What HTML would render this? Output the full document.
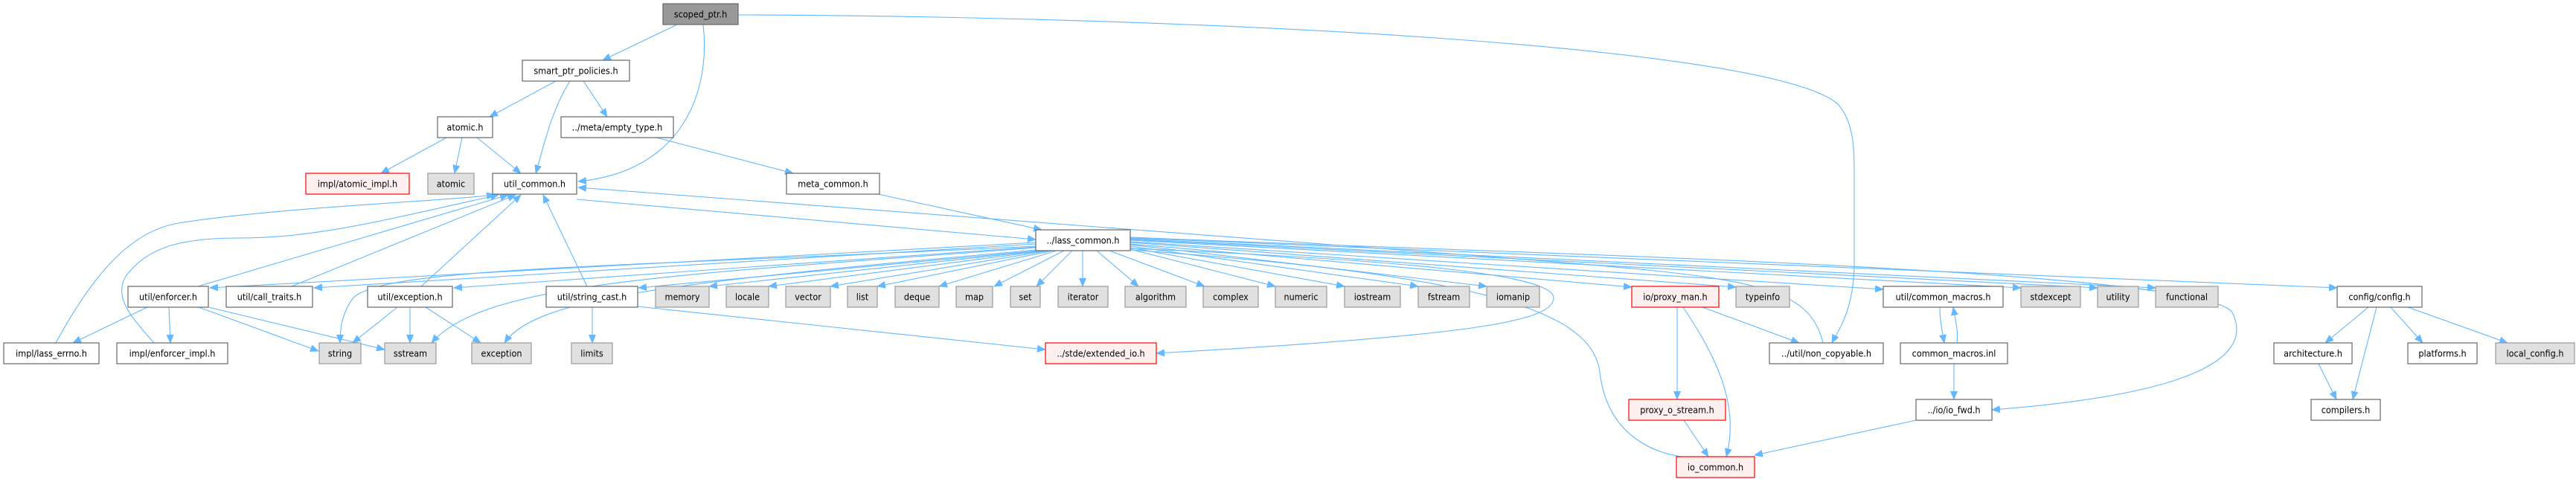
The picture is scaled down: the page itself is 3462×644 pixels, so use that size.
<!DOCTYPE html>
<html><head><meta charset="utf-8"><style>
html,body{margin:0;padding:0;background:#fff;}
svg{display:block;}
text{font-family:"DejaVu Sans Condensed","DejaVu Sans","Liberation Sans",sans-serif;font-size:12.5px;fill:#000;text-anchor:middle;dominant-baseline:central;}
.n rect{fill:#fff;stroke:#666;stroke-width:1.2;}
.g rect{fill:#e0e0e0;stroke:#999;stroke-width:1.2;}
.r rect{fill:#fff0f0;stroke:#f00;stroke-width:1.2;}
.root rect{fill:#999;stroke:#666;stroke-width:1.2;}
path{fill:none;stroke:#63b8ff;stroke-width:1.1;}
</style></head><body>
<svg width="3462" height="644" viewBox="0 0 3462 644" xmlns="http://www.w3.org/2000/svg">
<defs><marker id="a" markerUnits="userSpaceOnUse" markerWidth="12" markerHeight="10" refX="11" refY="5" orient="auto"><polygon points="0,0 12,5 0,10" fill="#63b8ff"/></marker></defs>
<g marker-end="url(#a)">
<path d="M910,33L810,81"/>
<path d="M945,33C955,120 920,230 777,244"/>
<path d="M992,20C1600,22 2380,60 2470,140C2492,165 2492,200 2492,240L2492,360C2490,420 2470,445 2462,461"/>
<path d="M747,109L658,157"/>
<path d="M766,109C740,150 730,200 720,233"/>
<path d="M784,109L816,157"/>
<path d="M600,185L512,233"/>
<path d="M621,185L611,233"/>
<path d="M641,185L700,233"/>
<path d="M882,185L1066,233"/>
<path d="M1180,261L1400,309"/>
<path d="M775,268L1392,322"/>
<path d="M2450,461C2430,380 2350,372 2000,345L777,252"/>
<path d="M75,461C130,360 180,310 240,300C360,280 600,270 665,262"/>
<path d="M207,461C180,430 150,400 170,370C200,330 250,320 320,320C420,320 500,300 670,262"/>
<path d="M266,385L683,262"/>
<path d="M392,385L693,262"/>
<path d="M566,385L700,262"/>
<path d="M789,385L730,262"/>
<path d="M198,413L98,461"/>
<path d="M227,413L229,461"/>
<path d="M267,413L428,472"/>
<path d="M280,413L517,470"/>
<path d="M534,413L474,461"/>
<path d="M551,413L551,461"/>
<path d="M572,413L646,461"/>
<path d="M796,413L796,461"/>
<path d="M857,412L1405,470"/>
<path d="M1392,331C800,360 520,360 475,400C460,420 457,440 457,461"/>
<path d="M1392,333C900,370 650,380 580,461"/>
<path d="M1392,336C900,380 720,400 678,461"/>
<path d="M1392,326L282,387"/>
<path d="M1392,328L422,387"/>
<path d="M1392,332L610,387"/>
<path d="M1395,337L858,387"/>
<path d="M1400,337L953,385"/>
<path d="M1405,337L1033,385"/>
<path d="M1410,337L1116,385"/>
<path d="M1415,337L1179,385"/>
<path d="M1420,337L1262,385"/>
<path d="M1430,337L1336,385"/>
<path d="M1441,337L1393,385"/>
<path d="M1455,337L1455,385"/>
<path d="M1474,337L1530,385"/>
<path d="M1491,337L1619,385"/>
<path d="M1519,335L1714,385"/>
<path d="M1519,333L1807,385"/>
<path d="M1519,331L1906,385"/>
<path d="M1519,329L1998,385"/>
<path d="M1519,328L2193,386"/>
<path d="M1519,326L2333,386"/>
<path d="M1519,325L2531,389"/>
<path d="M1519,323L2716,387"/>
<path d="M1519,322L2819,387"/>
<path d="M1519,321L2897,387"/>
<path d="M1519,320L3141,387"/>
<path d="M1519,319C2000,340 2960,360 3000,420C3030,480 2950,530 2677,551"/>
<path d="M1519,334C1900,350 2090,370 2088,401C2086,430 2000,450 1554,475"/>
<path d="M2254,413L2254,537"/>
<path d="M2262,413C2300,470 2340,540 2320,614"/>
<path d="M2288,413L2418,461"/>
<path d="M2263,565L2296,614"/>
<path d="M2575,565L2358,612"/>
<path d="M2607,413C2607,430 2610,445 2613,461"/>
<path d="M2630,461C2632,445 2628,430 2625,413"/>
<path d="M2626,489L2626,537"/>
<path d="M3183,413L3125,461"/>
<path d="M3194,413L3162,537"/>
<path d="M3213,413L3256,461"/>
<path d="M3236,413L3370,461"/>
<path d="M3116,489L3140,537"/>
</g>
<path d="M1519,336C2000,370 2140,420 2150,500C2160,590 2230,610 2260,614"/>

<g class="root"><rect x="891" y="5" width="101" height="28"/><text x="941.5" y="19">scoped_ptr.h</text></g>
<g class="n"><rect x="702" y="81" width="144" height="28"/><text x="774" y="95">smart_ptr_policies.h</text></g>
<g class="n"><rect x="588" y="157" width="74" height="28"/><text x="625" y="171">atomic.h</text></g>
<g class="n"><rect x="754" y="157" width="151" height="28"/><text x="829.5" y="171">../meta/empty_type.h</text></g>
<g class="r"><rect x="411" y="233" width="139" height="28"/><text x="480.5" y="247">impl/atomic_impl.h</text></g>
<g class="g"><rect x="575" y="233" width="62" height="28"/><text x="606" y="247">atomic</text></g>
<g class="n"><rect x="662" y="233" width="113" height="28"/><text x="718.5" y="247">util_common.h</text></g>
<g class="n"><rect x="1057" y="233" width="125" height="28"/><text x="1119.5" y="247">meta_common.h</text></g>
<g class="n"><rect x="1392" y="309" width="127" height="28"/><text x="1455.5" y="323">../lass_common.h</text></g>

<g class="n"><rect x="172" y="385" width="108" height="28"/><text x="226" y="399">util/enforcer.h</text></g>
<g class="n"><rect x="304" y="385" width="116" height="28"/><text x="362" y="399">util/call_traits.h</text></g>
<g class="n"><rect x="494" y="385" width="114" height="28"/><text x="551" y="399">util/exception.h</text></g>
<g class="n"><rect x="734" y="385" width="123" height="28"/><text x="795.5" y="399">util/string_cast.h</text></g>
<g class="g"><rect x="881" y="385" width="72" height="28"/><text x="917" y="399">memory</text></g>
<g class="g"><rect x="976" y="385" width="57" height="28"/><text x="1004.5" y="399">locale</text></g>
<g class="g"><rect x="1056" y="385" width="60" height="28"/><text x="1086" y="399">vector</text></g>
<g class="g"><rect x="1139" y="385" width="40" height="28"/><text x="1159" y="399">list</text></g>
<g class="g"><rect x="1203" y="385" width="59" height="28"/><text x="1232.5" y="399">deque</text></g>
<g class="g"><rect x="1285" y="385" width="49" height="28"/><text x="1309.5" y="399">map</text></g>
<g class="g"><rect x="1358" y="385" width="40" height="28"/><text x="1378" y="399">set</text></g>
<g class="g"><rect x="1422" y="385" width="67" height="28"/><text x="1455.5" y="399">iterator</text></g>
<g class="g"><rect x="1512" y="385" width="82" height="28"/><text x="1553" y="399">algorithm</text></g>
<g class="g"><rect x="1617" y="385" width="74" height="28"/><text x="1654" y="399">complex</text></g>
<g class="g"><rect x="1714" y="385" width="69" height="28"/><text x="1748.5" y="399">numeric</text></g>
<g class="g"><rect x="1807" y="385" width="75" height="28"/><text x="1844.5" y="399">iostream</text></g>
<g class="g"><rect x="1906" y="385" width="69" height="28"/><text x="1940.5" y="399">fstream</text></g>
<g class="g"><rect x="1998" y="385" width="71" height="28"/><text x="2033.5" y="399">iomanip</text></g>
<g class="r"><rect x="2193" y="385" width="117" height="28"/><text x="2251.5" y="399">io/proxy_man.h</text></g>
<g class="g"><rect x="2333" y="385" width="72" height="28"/><text x="2369" y="399">typeinfo</text></g>
<g class="n"><rect x="2531" y="385" width="161" height="28"/><text x="2611.5" y="399">util/common_macros.h</text></g>
<g class="g"><rect x="2716" y="385" width="80" height="28"/><text x="2756" y="399">stdexcept</text></g>
<g class="g"><rect x="2819" y="385" width="55" height="28"/><text x="2846.5" y="399">utility</text></g>
<g class="g"><rect x="2897" y="385" width="84" height="28"/><text x="2939" y="399">functional</text></g>
<g class="n"><rect x="3141" y="385" width="114" height="28"/><text x="3198" y="399">config/config.h</text></g>

<g class="n"><rect x="5" y="461" width="128" height="28"/><text x="69" y="475">impl/lass_errno.h</text></g>
<g class="n"><rect x="157" y="461" width="149" height="28"/><text x="231.5" y="475">impl/enforcer_impl.h</text></g>
<g class="g"><rect x="429" y="461" width="56" height="28"/><text x="457" y="475">string</text></g>
<g class="g"><rect x="517" y="461" width="69" height="28"/><text x="551.5" y="475">sstream</text></g>
<g class="g"><rect x="634" y="461" width="80" height="28"/><text x="674" y="475">exception</text></g>
<g class="g"><rect x="768" y="461" width="55" height="28"/><text x="795.5" y="475">limits</text></g>
<g class="r"><rect x="1405" y="461" width="149" height="28"/><text x="1479.5" y="475">../stde/extended_io.h</text></g>
<g class="n"><rect x="2378" y="461" width="153" height="28"/><text x="2454.5" y="475">../util/non_copyable.h</text></g>
<g class="n"><rect x="2554" y="461" width="144" height="28"/><text x="2626" y="475">common_macros.inl</text></g>
<g class="n"><rect x="3056" y="461" width="105" height="28"/><text x="3108.5" y="475">architecture.h</text></g>
<g class="n"><rect x="3236" y="461" width="93" height="28"/><text x="3282.5" y="475">platforms.h</text></g>
<g class="g"><rect x="3354" y="461" width="106" height="28"/><text x="3407" y="475">local_config.h</text></g>

<g class="r"><rect x="2189" y="537" width="130" height="28"/><text x="2254" y="551">proxy_o_stream.h</text></g>
<g class="n"><rect x="2575" y="537" width="102" height="28"/><text x="2626" y="551">../io/io_fwd.h</text></g>
<g class="n"><rect x="3106" y="537" width="93" height="28"/><text x="3152.5" y="551">compilers.h</text></g>
<g class="r"><rect x="2253" y="614" width="105" height="28"/><text x="2305.5" y="628">io_common.h</text></g>
</svg>
</body></html>
